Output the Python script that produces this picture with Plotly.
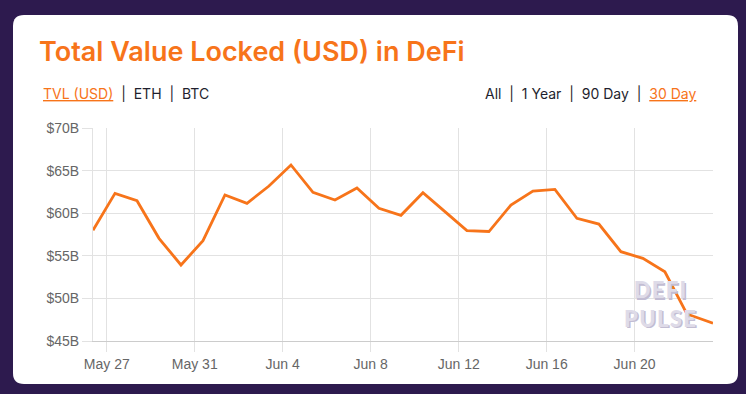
import plotly.graph_objects as go

# ---------------- data ----------------
dates = [
    "2020-05-26 09:00", "2020-05-27 09:00", "2020-05-28 09:00", "2020-05-29 09:00",
    "2020-05-30 09:00", "2020-05-31 09:00", "2020-06-01 09:00", "2020-06-02 09:00",
    "2020-06-03 09:00", "2020-06-04 09:00", "2020-06-05 09:00", "2020-06-06 09:00",
    "2020-06-07 09:00", "2020-06-08 09:00", "2020-06-09 09:00", "2020-06-10 09:00",
    "2020-06-11 09:00", "2020-06-12 09:00", "2020-06-13 09:00", "2020-06-14 09:00",
    "2020-06-15 09:00", "2020-06-16 09:00", "2020-06-17 09:00", "2020-06-18 09:00",
    "2020-06-19 09:00", "2020-06-20 09:00", "2020-06-21 09:00", "2020-06-22 09:00",
    "2020-06-23 13:30",
]
tvl_billions = [
    58.0, 62.33, 61.47, 57.05, 53.92, 56.77, 62.14, 61.16,
    63.19, 65.66, 62.45, 61.55, 62.96, 60.57, 59.75, 62.41,
    60.18, 57.95, 57.85, 60.96, 62.6, 62.8, 59.4, 58.73,
    55.48, 54.7, 53.13, 48.17, 47.08,
]
x_tick_vals = ["2020-05-27", "2020-05-31", "2020-06-04", "2020-06-08",
               "2020-06-12", "2020-06-16", "2020-06-20"]
x_tick_text = ["May 27", "May 31", "Jun 4", "Jun 8", "Jun 12", "Jun 16", "Jun 20"]
y_tick_vals = [45, 50, 55, 60, 65, 70]
y_tick_text = ["$45B", "$50B", "$55B", "$60B", "$65B", "$70B"]

title_text = "Total Value Locked (USD) in DeFi"
unit_links = ["TVL (USD)", "ETH", "BTC"]
range_links = ["All", "1 Year", "90 Day", "30 Day"]
watermark_words = ["DEFI", "PULSE"]

# ---------------- geometry helpers ----------------
W, H = 746, 394
L, R, T, B = 93, 33, 128, 53
PW, PH = W - L - R, H - T - B


def px(x):
    return (x - L) / PW


def py(y):
    return (H - B - y) / PH


ORANGE = "#f7741a"
BG = "#2d1a4e"
SEP = "\u00a0\u00a0|\u00a0\u00a0"

fig = go.Figure()
fig.add_trace(go.Scatter(
    x=dates, y=tvl_billions, mode="lines",
    line=dict(color=ORANGE, width=2.8),
    hoverinfo="skip",
))

# rounded white card
x0, x1, y0, y1, r = 13, 738, 15, 384, 11
path = (
    f"M {px(x0 + r)} {py(y0)} L {px(x1 - r)} {py(y0)} "
    f"Q {px(x1)} {py(y0)} {px(x1)} {py(y0 + r)} "
    f"L {px(x1)} {py(y1 - r)} Q {px(x1)} {py(y1)} {px(x1 - r)} {py(y1)} "
    f"L {px(x0 + r)} {py(y1)} Q {px(x0)} {py(y1)} {px(x0)} {py(y1 - r)} "
    f"L {px(x0)} {py(y0 + r)} Q {px(x0)} {py(y0)} {px(x0 + r)} {py(y0)} Z"
)
fig.add_shape(type="path", path=path, xref="paper", yref="paper",
              fillcolor="white", line=dict(width=0), layer="below")


def link(t):
    return f"<span style='color:{ORANGE}'><u>{t}</u></span>"


ann = []
ann.append(dict(text=title_text, x=px(37), y=py(52), xref="paper", yref="paper",
                xanchor="left", yanchor="middle", showarrow=False,
                font=dict(family="Inter", size=27, color=ORANGE, weight=600)))
ann.append(dict(
    text=SEP.join([link(unit_links[0])] + unit_links[1:]),
    x=px(41), y=py(93), xref="paper", yref="paper", xanchor="left", yanchor="middle",
    showarrow=False, font=dict(family="Inter", size=14, color="#1f1f2e")))
ann.append(dict(
    text=SEP.join(range_links[:-1] + [link(range_links[-1])]),
    x=px(698), y=py(93), xref="paper", yref="paper", xanchor="right", yanchor="middle",
    showarrow=False, font=dict(family="Inter", size=14, color="#1f1f2e")))

# watermark (letter-spaced with hair spaces)
wm_text = "<br>".join("\u200a".join(w) for w in watermark_words)
ann.append(dict(text=wm_text, x=px(660), y=py(304), xref="paper", yref="paper",
                xanchor="center", yanchor="middle", showarrow=False, align="center",
                font=dict(family="Lato", size=22, color="#dedbe8", weight=900,
                          shadow="1.5px 1.5px 0px #c2bdd3")))

fig.update_layout(
    width=W, height=H, margin=dict(l=L, r=R, t=T, b=B, pad=0),
    paper_bgcolor=BG, plot_bgcolor="rgba(0,0,0,0)",
    showlegend=False, annotations=ann,
    font=dict(family="Liberation Sans, Arial", size=14, color="#666666"),
)
fig.update_xaxes(
    type="date", range=[dates[0], dates[-1]],
    tickvals=x_tick_vals, ticktext=x_tick_text,
    showgrid=True, gridcolor="#e2e2e2", gridwidth=1,
    ticks="outside", ticklen=10, tickcolor="#e2e2e2", tickwidth=1,
    showline=True, linecolor="#cccccc", linewidth=1,
    zeroline=False, tickfont=dict(size=14, color="#666666"),
)
fig.update_yaxes(
    range=[45, 70], tickvals=y_tick_vals, ticktext=y_tick_text,
    showgrid=True, gridcolor="#e2e2e2", gridwidth=1,
    ticks="outside", ticklen=10, tickcolor="#e2e2e2", tickwidth=1,
    showline=True, linecolor="#e2e2e2", linewidth=1,
    zeroline=False, tickfont=dict(size=14, color="#666666"),
)

fig.write_html("out.html", config={"displayModeBar": False},
               post_script="document.body.style.margin='0';")
